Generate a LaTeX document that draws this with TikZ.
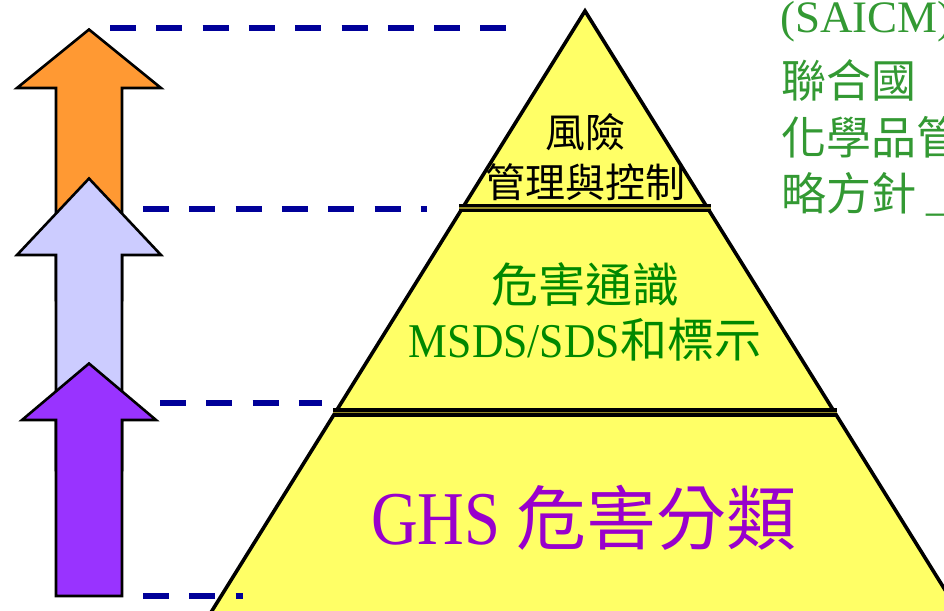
\documentclass[tikz,border=0pt]{standalone}
\usepackage{fontspec}
\setmainfont{Liberation Serif}
\newfontfamily\cjk{Noto Sans CJK TC}
\newfontfamily\latn[FakeStretch=0.9]{Liberation Serif}
\newfontfamily\latnb[FakeStretch=0.85]{Liberation Serif}
\definecolor{pyrfill}{RGB}{255,255,102}
\definecolor{sepgap}{RGB}{150,140,40}
\definecolor{arrorange}{RGB}{255,153,51}
\definecolor{arrlav}{RGB}{204,204,255}
\definecolor{arrpurple}{RGB}{153,51,255}
\definecolor{guideblue}{RGB}{0,0,153}
\definecolor{midgreen}{RGB}{0,136,0}
\definecolor{sidegreen}{RGB}{51,153,51}
\definecolor{ghspurple}{RGB}{153,0,204}
\begin{document}
\begin{tikzpicture}[x=1pt,y=-1pt,
  pyr/.style={fill=pyrfill,draw=black,line width=3.6pt,line join=miter},
  sepline/.style={draw=black,line width=3.6pt,double=sepgap,double distance=1.5pt},
  upArrow/.style={draw=black,line width=2.6pt,line join=miter},
  guide/.style={draw=guideblue,line width=6.5pt,dash pattern=on 26pt off 20.3pt},
  lbl/.style={inner sep=0pt,anchor=base},
  toptxt/.style={lbl,font=\cjk\fontsize{40}{48}\selectfont,text=black},
  midtxt/.style={lbl,font=\cjk\fontsize{47}{56}\selectfont,text=midgreen},
  ghstxt/.style={lbl,font=\cjk\fontsize{70}{84}\selectfont,text=ghspurple},
  sidetxt/.style={inner sep=0pt,anchor=base west,font=\cjk\fontsize{45}{54}\selectfont,text=sidegreen}
]
\useasboundingbox (0,0) rectangle (944,610);
\clip (0,0) rectangle (944,610);

% pyramid
\draw[pyr] (585,11) -- (205,622) -- (965,622) -- cycle;
\coordinate (s1l) at (459,208);
\coordinate (s1r) at (711,208);
\coordinate (s2l) at (333,412.5);
\coordinate (s2r) at (837,412.5);
\draw[sepline] (s1l) -- (s1r);
\draw[sepline,line width=4.2pt] (s2l) -- (s2r);

% pyramid texts
\node[toptxt] (risk1) at (585,147) {風險};
\node[toptxt] (risk2) at (585,197) {管理與控制};
\node[midtxt] (comm1) at (585,302) {危害通識};
\node[midtxt] (comm2) at (585,357) {{\latn\fontsize{48.5}{56}\selectfont MSDS/SDS}和標示};
\node[ghstxt] (ghs) at (584,544) {{\latnb\fontsize{76}{84}\selectfont GHS }危害分類};

% side text
\node[sidetxt,font=\fontsize{45}{54}\selectfont] (side1) at (780,33) {(SAICM)};
\node[sidetxt] (side2) at (781,97) {聯合國};
\node[sidetxt] (side3) at (781,154) {化學品管};
\node[sidetxt] (side4) at (781,210) {略方針 {\rmfamily\_}};

% arrows
\draw[upArrow,fill=arrorange] (89,29.5) -- (161,88) -- (122,88) -- (122,300) -- (56,300) -- (56,88) -- (17,88) -- cycle;
\draw[upArrow,fill=arrlav] (89,178.5) -- (161,255) -- (122,255) -- (122,470) -- (56,470) -- (56,255) -- (17,255) -- cycle;
\draw[upArrow,fill=arrpurple] (89,363.5) -- (156,420) -- (122,420) -- (122,596) -- (56,596) -- (56,420) -- (22,420) -- cycle;

% dashed guide lines
\coordinate (g1a) at (110,28);
\coordinate (g1b) at (507,28);
\coordinate (g2a) at (143,209);
\coordinate (g2b) at (427,209);
\coordinate (g3a) at (160,403);
\coordinate (g3b) at (322,403);
\coordinate (g4a) at (143,596);
\coordinate (g4b) at (243,596);
\draw[guide] (g1a) -- (g1b);
\draw[guide] (g2a) -- (g2b);
\draw[guide] (g3a) -- (g3b);
\draw[guide] (g4a) -- (g4b);
\end{tikzpicture}
\end{document}
